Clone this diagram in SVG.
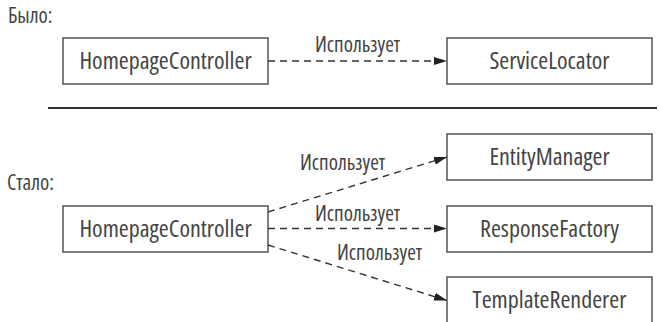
<svg xmlns="http://www.w3.org/2000/svg" width="659" height="322" viewBox="0 0 659 322">
  <style>
    .box { fill: #ffffff; stroke: #555555; stroke-width: 1.5; }
    .name { font-family: "Open Sans", "Noto Sans", sans-serif; font-stretch: 75%; font-size: 24px; fill: #444444; text-anchor: middle; }
    .lbl { font-family: "Open Sans", "Noto Sans", sans-serif; font-stretch: 75%; font-size: 21px; fill: #444444; }
    .dep { fill: none; stroke: #333333; stroke-width: 1.4; stroke-dasharray: 7 5; marker-end: url(#arrow); }
  </style>
  <defs>
    <marker id="arrow" markerWidth="13" markerHeight="8" refX="13" refY="4" orient="auto" markerUnits="userSpaceOnUse">
      <path d="M0,0 L13,4 L0,8 Z" fill="#222222"/>
    </marker>
  </defs>
  <rect width="659" height="322" fill="#ffffff"/>

  <!-- section captions -->
  <text class="lbl" x="8" y="23">Было:</text>
  <text class="lbl" x="7" y="190">Стало:</text>

  <!-- divider between the two variants -->
  <line x1="48" y1="108" x2="657" y2="108" stroke="#333333" stroke-width="2"/>

  <!-- before -->
  <g id="before-homepage-controller">
    <rect class="box" x="63" y="38" width="205" height="46"/>
    <text class="name" x="165.5" y="69">HomepageController</text>
  </g>
  <g id="service-locator">
    <rect class="box" x="447" y="38" width="205" height="46"/>
    <text class="name" x="549.5" y="69">ServiceLocator</text>
  </g>

  <!-- after -->
  <g id="after-homepage-controller">
    <rect class="box" x="63" y="206" width="205" height="46"/>
    <text class="name" x="165.5" y="237">HomepageController</text>
  </g>
  <g id="entity-manager">
    <rect class="box" x="447" y="134" width="205" height="46"/>
    <text class="name" x="549.5" y="165">EntityManager</text>
  </g>
  <g id="response-factory">
    <rect class="box" x="447" y="206" width="205" height="46"/>
    <text class="name" x="549.5" y="237">ResponseFactory</text>
  </g>
  <g id="template-renderer">
    <rect class="box" x="447" y="277" width="205" height="50"/>
    <text class="name" x="549.5" y="308">TemplateRenderer</text>
  </g>

  <g id="connectors">
    <line class="dep" x1="268" y1="61" x2="447" y2="61"/>
    <line class="dep" x1="268" y1="212" x2="447" y2="157"/>
    <line class="dep" x1="268" y1="228.5" x2="447" y2="228.5"/>
    <line class="dep" x1="268" y1="245" x2="447" y2="300.5"/>
  </g>

  <g id="connector-labels">
    <text class="lbl" x="315" y="52">Использует</text>
    <text class="lbl" x="300" y="170">Использует</text>
    <text class="lbl" x="315" y="221">Использует</text>
    <text class="lbl" x="337" y="260">Использует</text>
  </g>
</svg>
